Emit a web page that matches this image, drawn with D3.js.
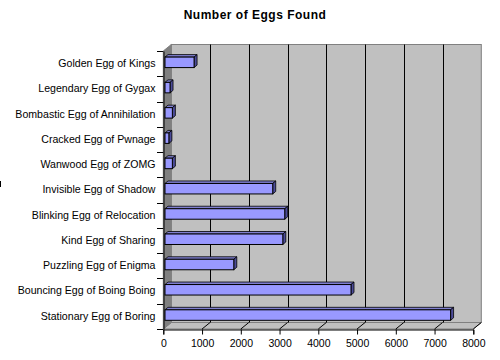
<!DOCTYPE html>
<html><head><meta charset="utf-8">
<script src="https://cdn.jsdelivr.net/npm/d3@7"></script>
<style>html,body{margin:0;padding:0;background:#fff;}svg{display:block;}</style>
</head><body>
<script>
const categories = ["Golden Egg of Kings","Legendary Egg of Gygax","Bombastic Egg of Annihilation","Cracked Egg of Pwnage","Wanwood Egg of ZOMG","Invisible Egg of Shadow","Blinking Egg of Relocation","Kind Egg of Sharing","Puzzling Egg of Enigma","Bouncing Egg of Boing Boing","Stationary Egg of Boring"];
const eggsFound = [750,130,190,100,190,2780,3090,3040,1775,4800,7370];
const xTicks = [0,1000,2000,3000,4000,5000,6000,7000,8000];
const title = "Number of Eggs Found";

const W=500,H=360;
const svg=d3.select("body").append("svg").attr("width",W).attr("height",H);
const font="Arial, 'Liberation Sans', sans-serif";

const x=d3.scaleLinear().domain([0,8000]).range([163.3,473.3]);
const y=d3.scaleBand().domain(categories).range([51,329]).paddingInner(0.585).paddingOuter(0.2925);
const yAxisBand=d3.scaleBand().domain(categories).range([51,329]);
const DX=8, DY=-6.5;       // wall depth
const BX=1.7, BY=-1.3;     // bar plane shift
const bx=3, by=-2.5;       // bar depth
const top0=51, bot=329;

// back wall
svg.append("rect").attr("x",x(0)+DX).attr("y",top0+DY).attr("width",x(8000)-x(0)).attr("height",bot-top0)
  .attr("fill","#c0c0c0").attr("stroke","#808080").attr("stroke-width",1);
// floor
svg.append("path").attr("d",`M${x(0)},${bot}L${x(0)+DX},${bot+DY}L${x(8000)+DX},${bot+DY}L${x(8000)},${bot}Z`)
  .attr("fill","#c0c0c0").attr("stroke","#808080");
// grid lines on back wall
svg.selectAll(".grid").data(xTicks.filter(d=>d>0&&d<8000)).enter().append("line")
  .attr("x1",d=>Math.round(x(d)+DX)+0.5).attr("x2",d=>Math.round(x(d)+DX)+0.5)
  .attr("y1",top0+DY).attr("y2",bot+DY).attr("stroke","#000");
// floor diagonals
svg.selectAll(".fl").data(xTicks.filter(d=>d>0)).enter().append("line")
  .attr("x1",d=>x(d)).attr("y1",bot).attr("x2",d=>x(d)+DX).attr("y2",bot+DY).attr("stroke","#000");
// left wall
svg.append("path").attr("d",`M${x(0)},${top0}L${x(0)+DX},${top0+DY}L${x(0)+DX},${bot+DY}L${x(0)},${bot}Z`)
  .attr("fill","#808080").attr("stroke","#808080");

// bars
const g=svg.append("g").attr("transform",`translate(${BX},${BY})`);
const bars=g.selectAll(".bar").data(categories.map((c,i)=>({c,v:eggsFound[i]}))).enter().append("g");
bars.append("path").attr("d",d=>{const x0=x(0),x1=x(d.v),y0=y(d.c);
  return `M${x0},${y0}L${x0+bx},${y0+by}L${x1+bx},${y0+by}L${x1},${y0}Z`;})
  .attr("fill","#7f7fd0").attr("stroke","#000").attr("stroke-width",0.8);
bars.append("path").attr("d",d=>{const x1=x(d.v),y0=y(d.c),h=y.bandwidth();
  return `M${x1},${y0}L${x1+bx},${y0+by}L${x1+bx},${y0+h+by}L${x1},${y0+h}Z`;})
  .attr("fill","#4c4c99").attr("stroke","#000").attr("stroke-width",0.8);
bars.append("rect").attr("x",x(0)).attr("y",d=>y(d.c)).attr("width",d=>x(d.v)-x(0)).attr("height",y.bandwidth())
  .attr("fill","#9999ff").attr("stroke","#000").attr("stroke-width",1);

// y axis
const ya=svg.append("g").attr("transform",`translate(${Math.round(x(0))+0.5},0)`)
  .call(d3.axisLeft(yAxisBand).tickSize(0).tickPadding(8));
ya.select(".domain").attr("stroke","#000");
ya.selectAll("text").attr("font-family",font).attr("font-size","10.6px").attr("fill","#000");
svg.selectAll(".ytk").data(d3.range(categories.length+1)).enter().append("line")
  .attr("x1",157).attr("x2",x(0)).attr("y1",i=>Math.round(51+i*yAxisBand.step())+0.5).attr("y2",i=>Math.round(51+i*yAxisBand.step())+0.5)
  .attr("stroke","#000");

// x axis
const xa=svg.append("g").attr("transform",`translate(0,${bot+0.5})`)
  .call(d3.axisBottom(x).tickValues(xTicks).tickFormat(d3.format("d")).tickSize(5).tickPadding(5));
xa.select(".domain").attr("stroke","#000");
xa.selectAll("text").attr("font-family",font).attr("font-size","10.5px").attr("fill","#000");

// title
svg.append("text").attr("x",255).attr("y",18.5).attr("text-anchor","middle")
  .attr("font-family",font).attr("font-weight","bold").attr("font-size","12px").attr("letter-spacing","0.5px").text(title);

// clipped legend stub
svg.append("line").attr("x1",0.5).attr("x2",0.5).attr("y1",181).attr("y2",187).attr("stroke","#000");
</script>
</body></html>
